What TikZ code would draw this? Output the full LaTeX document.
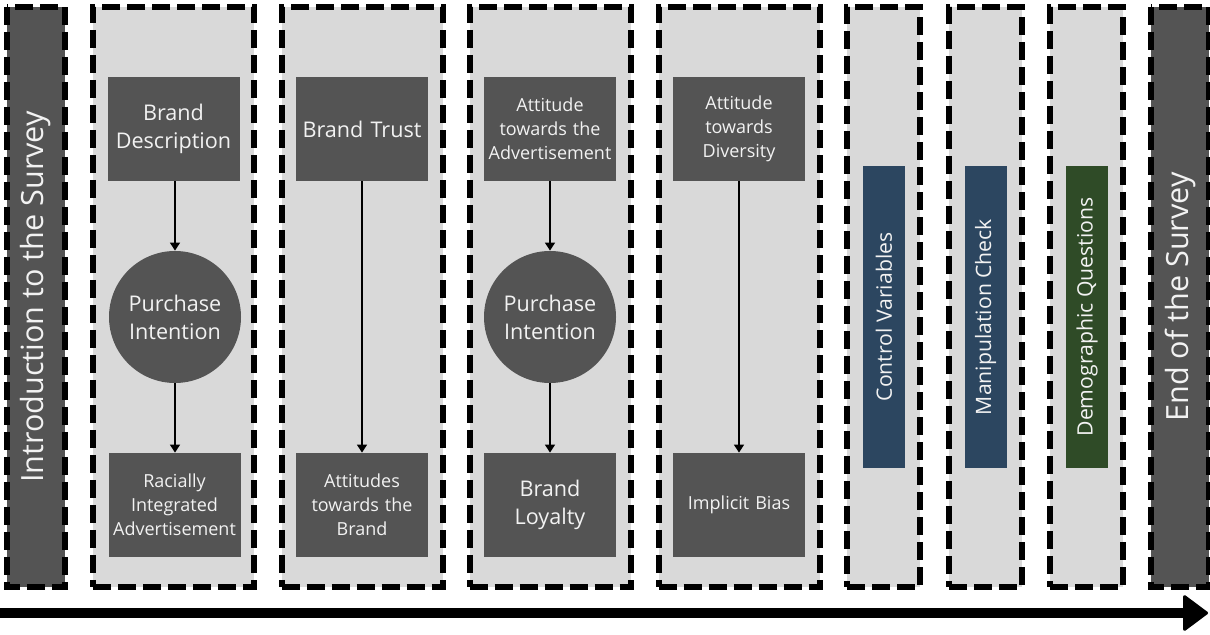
\documentclass[tikz,border=0pt]{standalone}
\usepackage{fontspec}
\setmainfont{Open Sans}
\usetikzlibrary{arrows.meta}
\definecolor{panel}{HTML}{D9D9D9}
\definecolor{dark}{HTML}{545454}
\definecolor{navy}{HTML}{2C4660}
\definecolor{forest}{HTML}{2F4B27}
\definecolor{ink}{HTML}{F2F2F2}
\tikzset{
  stage/.style={draw=black, line width=3pt, dash pattern=on 9pt off 3.5pt,
    fill=panel, minimum height=290pt, inner sep=0pt},
  widestage/.style={stage, minimum width=80.5pt},
  narrowstage/.style={stage, minimum width=36.5pt},
  endstage/.style={stage, fill=dark, rotate=90, minimum width=290pt,
    minimum height=29pt, text=ink, font=\fontsize{15.3}{17}\selectfont},
  bigtxt/.style={font=\fontsize{10.8}{14}\selectfont},
  smalltxt/.style={font=\fontsize{9}{12}\selectfont},
  item/.style={fill=dark, text=ink, align=center, inner sep=1pt,
    minimum width=65.5pt, minimum height=52pt, text width=64pt},
  hub/.style={circle, fill=dark, text=ink, align=center, inner sep=1pt,
    minimum size=66pt, bigtxt},
  bar/.style={rotate=90, minimum width=151pt, minimum height=21pt,
    inner sep=0pt, text=ink, font=\fontsize{10.6}{12}\selectfont},
  link/.style={line width=0.8pt, -{Triangle[width=5pt,length=4pt]}},
  timeline/.style={line width=5pt,
    -{Triangle[round, length=13pt, width=19pt, line width=1.5pt]}}
}
\begin{document}
\begin{tikzpicture}[x=0.5pt, y=-0.5pt]
\useasboundingbox (0,0) rectangle (1210,635);

% survey stages
\node[endstage] (intro) at (36,297) {Introduction to the Survey};
\node[widestage] (s1) at (173.5,297) {};
\node[widestage] (s2) at (362,297) {};
\node[widestage] (s3) at (550,297) {};
\node[widestage] (s4) at (739,297) {};
\node[narrowstage] (s5) at (883.5,297) {};
\node[narrowstage] (s6) at (985.5,297) {};
\node[narrowstage] (s7) at (1086.5,297) {};
\node[endstage] (outro) at (1180,297) {End of the Survey};

% stage 1
\node[item, bigtxt] (bd) at (173.5,129) {Brand\\Description};
\node[hub] (pi1) at (175,317) {Purchase\\Intention};
\node[item, smalltxt] (ria) at (174.5,505) {Racially\\Integrated\\Advertisement};
\draw[link] (bd.south -| pi1) -- (pi1.north);
\draw[link] (pi1.south) -- (pi1.south |- ria.north);

% stage 2
\node[item, bigtxt] (bt) at (362,129) {Brand Trust};
\node[item, smalltxt] (atb) at (362,505) {Attitudes\\towards the\\Brand};
\draw[link] (bt.south) -- (atb.north);

% stage 3
\node[item, smalltxt] (ata) at (550,129) {Attitude\\towards the\\Advertisement};
\node[hub] (pi2) at (550,317) {Purchase\\Intention};
\node[item, bigtxt] (bl) at (550,505) {Brand\\Loyalty};
\draw[link] (ata.south) -- (pi2.north);
\draw[link] (pi2.south) -- (bl.north);

% stage 4
\node[item, smalltxt] (atd) at (739,129) {Attitude\\towards\\Diversity};
\node[item, smalltxt] (ib) at (739,505) {Implicit Bias};
\draw[link] (atd.south) -- (ib.north);

% closing blocks
\node[bar, fill=navy] (cv) at (884,317) {Control Variables};
\node[bar, fill=navy] (mc) at (985.5,317) {Manipulation Check};
\node[bar, fill=forest] (dq) at (1087,317) {Demographic Questions};

% time line
\coordinate (t0) at (0,613);
\coordinate (t1) at (1208,613);
\draw[timeline] (t0) -- (t1);
\end{tikzpicture}
\end{document}
